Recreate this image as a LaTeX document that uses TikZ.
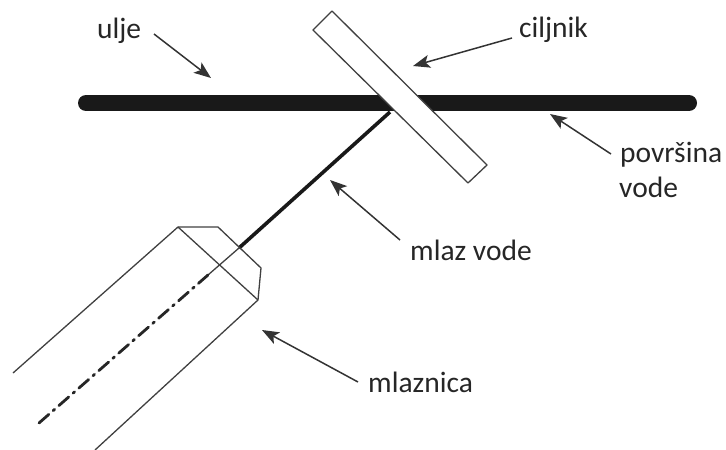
\documentclass[tikz,border=0pt]{standalone}
\usepackage{fontspec}
\setmainfont{Carlito}
\usetikzlibrary{arrows.meta}
\tikzset{
  lbl/.style={inner sep=0pt,anchor=base west,font=\fontsize{29.5}{34}\selectfont,text=black!85},
  pointer/.style={draw=black!80,line width=1.5pt,-{Stealth[length=17pt,width=13pt,inset=4pt]}},
  thin line/.style={draw=black!75,line width=1.3pt,line join=round}
}
\begin{document}
\begin{tikzpicture}[x=1pt,y=-1pt]
\useasboundingbox (0,0) rectangle (726,450);
% povrsina
\coordinate (surfL) at (86,103);
\coordinate (surfR) at (689,103);
\draw[line width=16pt,line cap=round,black!90] (surfL) -- (surfR);
% mlaz
\coordinate (jetEnd) at (390,112);
\coordinate (jetStart) at (239,248);
\coordinate (axisIn) at (208,275);
\coordinate (axisEnd) at (39,423);
\draw[line width=3.6pt,black!90] (jetStart) -- (jetEnd);
\draw[thin line] (jetStart) -- (axisIn);
\draw[line width=2.8pt,black!85,line cap=round,dash pattern=on 13pt off 5.75pt on 2pt off 5.75pt] (axisEnd) -- (axisIn);
% ciljnik
\coordinate (tgtA) at (332,11);
\coordinate (tgtB) at (487,165);
\coordinate (tgtC) at (468,183);
\coordinate (tgtD) at (313,30);
\draw[thin line,fill=white] (tgtA) -- (tgtB) -- (tgtC) -- (tgtD) -- cycle;
% mlaznica
\coordinate (nozA) at (178,227);
\coordinate (nozB) at (218,227);
\coordinate (nozC) at (261,268);
\coordinate (nozD) at (258,300);
\coordinate (nozE) at (13,373);
\coordinate (nozF) at (95,450);
\draw[thin line] (nozE) -- (nozA) -- (nozB) -- (nozC) -- (nozD) -- (nozF);
\draw[thin line] (nozA) -- (nozD);
% oznake
\node[lbl] (ulje) at (97,38) {ulje};
\node[lbl] (ciljnik) at (519,37) {ciljnik};
\node[lbl] (povrsina) at (620,162) {površina};
\node[lbl] (vode) at (619,197) {vode};
\node[lbl] (mlaz) at (410,260) {mlaz vode};
\node[lbl] (mlaznica) at (368,392) {mlaznica};
\coordinate (uljeTip) at (211,78);
\coordinate (uljeOut) at (154,34);
\coordinate (ciljnikTip) at (413,66);
\coordinate (ciljnikOut) at (512,38);
\coordinate (povrsinaTip) at (550,114);
\coordinate (povrsinaOut) at (611,154);
\coordinate (mlazTip) at (330,180);
\coordinate (mlazOut) at (400,240);
\coordinate (mlaznicaTip) at (262,330);
\coordinate (mlaznicaOut) at (358,382);
\draw[pointer] (uljeOut) -- (uljeTip);
\draw[pointer] (ciljnikOut) -- (ciljnikTip);
\draw[pointer] (povrsinaOut) -- (povrsinaTip);
\draw[pointer] (mlazOut) -- (mlazTip);
\draw[pointer] (mlaznicaOut) -- (mlaznicaTip);
\end{tikzpicture}
\end{document}
